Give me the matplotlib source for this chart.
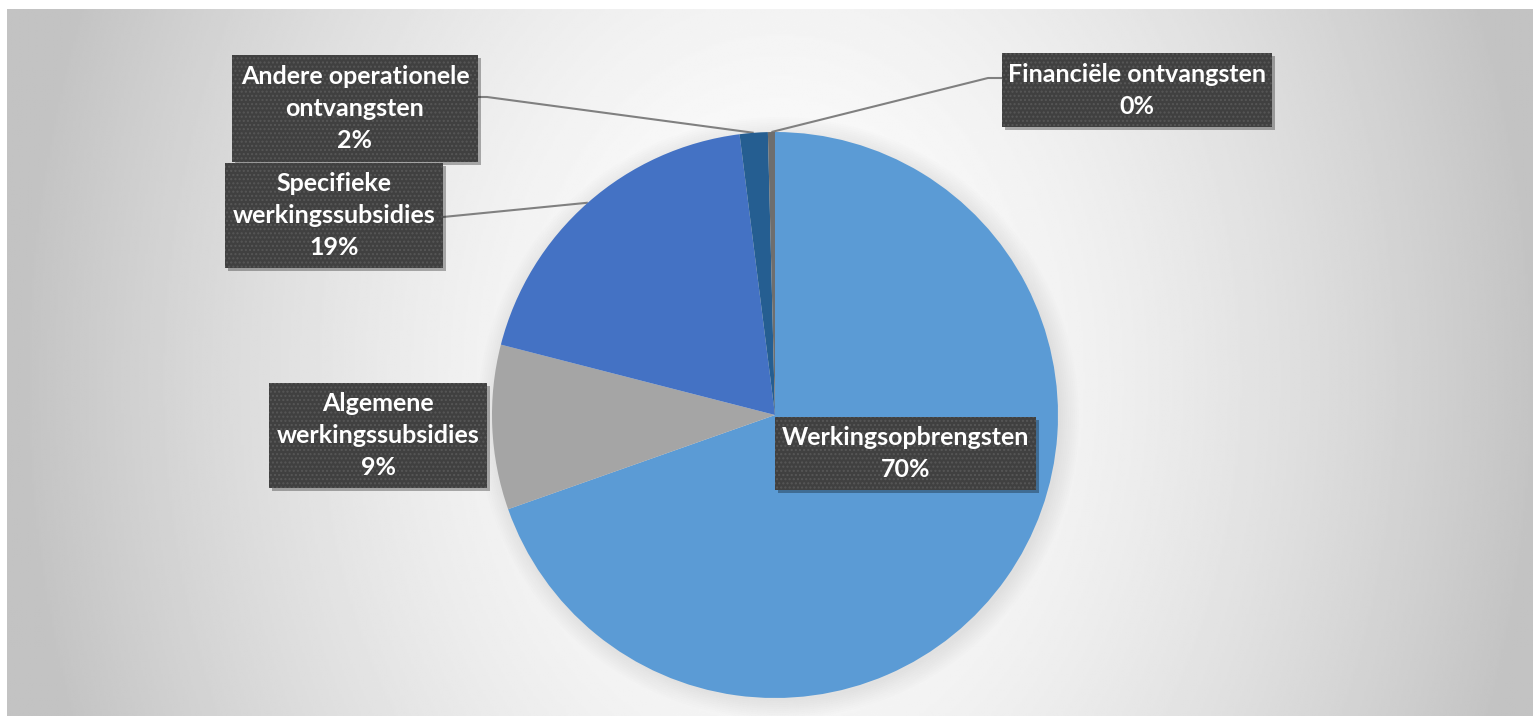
import numpy as np
import matplotlib.pyplot as plt
from matplotlib.patches import Rectangle

# slices, clockwise from 12 o'clock
names = ['Werkingsopbrengsten', 'Algemene\nwerkingssubsidies', 'Specifieke\nwerkingssubsidies',
         'Andere operationele\nontvangsten', 'Financiële ontvangsten']
values = [69.6, 9.4, 19.0, 1.6, 0.4]
colors = ['#5B9BD5', '#A5A5A5', '#4472C4', '#255E91', '#6E6E6E']

W, H = 1533, 716
CX, CY, R = 775, 415, 283   # pie centre / radius in pixels (top-left origin)

# label boxes (left, top, right, bottom) in pixels
boxes = [(775, 417, 1036, 490),
         (269, 383, 487, 488),
         (225, 163, 443, 268),
         (232, 55, 478, 162),
         (1002, 53, 1272, 127)]
# leader line start points at the box side
leaders = {2: [(443, 217)],
           3: [(478, 97), (487, 97)],
           4: [(1002, 78), (988, 78)]}


def Y(y):
    return H - y


fig = plt.figure(figsize=(W / 100, H / 100), dpi=100, facecolor='white')
ax = fig.add_axes([0, 0, 1, 1])
ax.axis('off')

# radial grey background
xs = np.linspace(7, W, 700)
ys = np.linspace(9, H, 330)
gx, gy = np.meshgrid(xs, ys)
d = np.sqrt(((gx - 780) / 760) ** 2 + ((gy - 380) / 1000) ** 2)
shade = 1 - 0.235 * np.clip(d, 0, 1) ** 1.6
ax.imshow(shade, extent=(7, W, Y(H), Y(9)), origin='upper', cmap='gray',
          vmin=0, vmax=1, aspect='auto', zorder=0, interpolation='bilinear')

# soft shadow behind the pie
for k in range(10):
    ax.add_patch(plt.Circle((CX + 3, Y(CY) - 3), R + k * 2, color='black',
                            alpha=0.008, lw=0, zorder=1))

wedges, _ = ax.pie(values, colors=colors, startangle=90, counterclock=False,
                   center=(CX, Y(CY)), radius=R, frame=True,
                   wedgeprops=dict(linewidth=0, zorder=3))

# leader lines from the boxes to the middle of each slice edge
for i, pts in leaders.items():
    w = wedges[i]
    mid = np.deg2rad((w.theta1 + w.theta2) / 2)
    ex, ey = CX + R * np.cos(mid), Y(CY) + R * np.sin(mid)
    lx = [p[0] for p in pts] + [ex]
    ly = [Y(p[1]) for p in pts] + [ey]
    ax.plot(lx, ly, color='#808080', lw=1.5, zorder=2, solid_capstyle='butt')

# data labels
for i, (name, v) in enumerate(zip(names, values)):
    l, t, r, b = boxes[i]
    ax.add_patch(Rectangle((l + 3, Y(b) - 3), r - l, b - t, facecolor='black',
                           alpha=0.3, lw=0, zorder=4))
    ax.add_patch(Rectangle((l, Y(b)), r - l, b - t, facecolor='#404040', lw=0, zorder=5))
    ax.add_patch(Rectangle((l, Y(b)), r - l, b - t, facecolor='none', edgecolor='#575757',
                           hatch='....', lw=0, zorder=6))
    lines = name.split('\n') + [f'{round(v):.0f}%']
    mid_y = (t + b) / 2
    n = len(lines)
    for j, txt in enumerate(lines):
        yy = mid_y + (j - (n - 1) / 2) * 32
        ax.text((l + r) / 2, Y(yy), txt, ha='center', va='center', color='white',
                fontsize=18, fontweight='bold', family=['Lato', 'DejaVu Sans'], zorder=7)

ax.set_xlim(0, W)
ax.set_ylim(0, H)
ax.set_aspect('auto')

fig.savefig('out.png', dpi=100, facecolor='white')
